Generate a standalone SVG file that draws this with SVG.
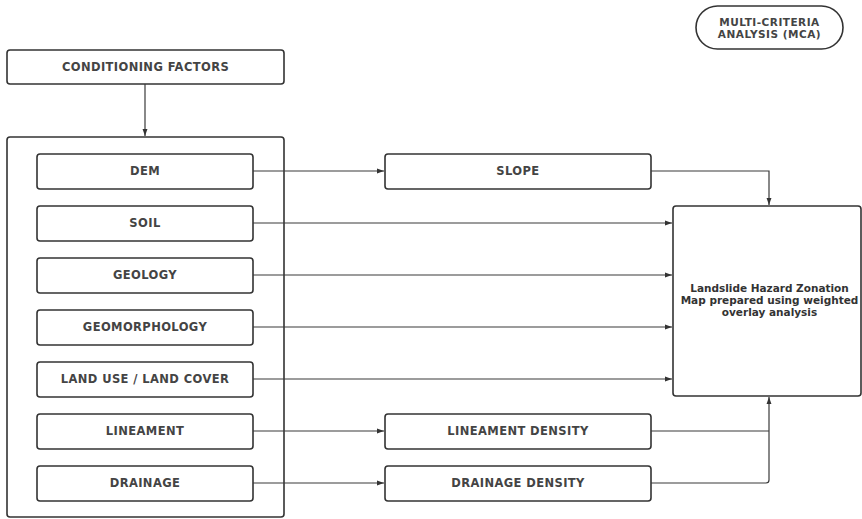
<svg xmlns="http://www.w3.org/2000/svg" width="862" height="519" viewBox="0 0 862 519">
  <style>
    .box { fill: #ffffff; stroke: #333333; stroke-width: 1.6; }
    .lbl { font-family: "DejaVu Sans", "Liberation Sans", sans-serif; font-weight: bold; font-size: 11.5px; letter-spacing: 0.4px; fill: #444444; text-anchor: middle; }
    .mca { font-size: 10.5px; letter-spacing: 0.5px; }
    .txt { font-family: "DejaVu Sans", "Liberation Sans", sans-serif; font-weight: bold; font-size: 10.5px; fill: #333333; text-anchor: middle; }
    .conn { fill: none; stroke: #3a3a3a; stroke-width: 1.2; }
  </style>
  <defs>
    <marker id="arrow" viewBox="0 0 10 10" refX="10" refY="5" markerWidth="7" markerHeight="7" orient="auto" markerUnits="userSpaceOnUse">
      <path d="M0,1.5 L10,5 L0,8.5 Z" fill="#333333"/>
    </marker>
  </defs>
  <rect width="862" height="519" fill="#ffffff"/>

  <g id="mca">
    <rect class="box" x="696" y="6" width="147" height="43" rx="21.5"/>
    <text class="lbl mca" x="769.5" y="25.5">MULTI-CRITERIA</text>
    <text class="lbl mca" x="769.5" y="38">ANALYSIS (MCA)</text>
  </g>

  <g id="conditioning-factors">
    <rect class="box" x="7" y="50" width="277" height="34" rx="3"/>
    <text class="lbl" x="145.5" y="71">CONDITIONING FACTORS</text>
  </g>

  <g id="factor-group">
    <rect class="box" x="7" y="137" width="277" height="380" rx="3"/>
  </g>

  <g id="dem">
    <rect class="box" x="37" y="154" width="216" height="35" rx="3"/>
    <text class="lbl" x="145" y="175">DEM</text>
  </g>
  <g id="soil">
    <rect class="box" x="37" y="206" width="216" height="35" rx="3"/>
    <text class="lbl" x="145" y="227">SOIL</text>
  </g>
  <g id="geology">
    <rect class="box" x="37" y="258" width="216" height="35" rx="3"/>
    <text class="lbl" x="145" y="279">GEOLOGY</text>
  </g>
  <g id="geomorphology">
    <rect class="box" x="37" y="310" width="216" height="35" rx="3"/>
    <text class="lbl" x="145" y="331">GEOMORPHOLOGY</text>
  </g>
  <g id="land-use">
    <rect class="box" x="37" y="362" width="216" height="35" rx="3"/>
    <text class="lbl" x="145" y="383">LAND USE / LAND COVER</text>
  </g>
  <g id="lineament">
    <rect class="box" x="37" y="414" width="216" height="35" rx="3"/>
    <text class="lbl" x="145" y="435">LINEAMENT</text>
  </g>
  <g id="drainage">
    <rect class="box" x="37" y="466" width="216" height="35" rx="3"/>
    <text class="lbl" x="145" y="487">DRAINAGE</text>
  </g>

  <g id="slope">
    <rect class="box" x="385" y="154" width="266" height="35" rx="3"/>
    <text class="lbl" x="518" y="175">SLOPE</text>
  </g>
  <g id="lineament-density">
    <rect class="box" x="385" y="414" width="266" height="35" rx="3"/>
    <text class="lbl" x="518" y="435">LINEAMENT DENSITY</text>
  </g>
  <g id="drainage-density">
    <rect class="box" x="385" y="466" width="266" height="35" rx="3"/>
    <text class="lbl" x="518" y="487">DRAINAGE DENSITY</text>
  </g>

  <g id="hazard-map">
    <rect class="box" x="673" y="206" width="188" height="190" rx="3"/>
    <text class="txt" x="769.5" y="292">Landslide Hazard Zonation</text>
    <text class="txt" x="769.5" y="304">Map prepared using weighted</text>
    <text class="txt" x="769.5" y="316">overlay analysis</text>
  </g>

  <g id="connectors">
    <path class="conn" d="M145,84 V136" marker-end="url(#arrow)"/>
    <path class="conn" d="M253,171 H384" marker-end="url(#arrow)"/>
    <path class="conn" d="M651,171 H769 V205" marker-end="url(#arrow)"/>
    <path class="conn" d="M253,223 H672" marker-end="url(#arrow)"/>
    <path class="conn" d="M253,275 H672" marker-end="url(#arrow)"/>
    <path class="conn" d="M253,327 H672" marker-end="url(#arrow)"/>
    <path class="conn" d="M253,379 H672" marker-end="url(#arrow)"/>
    <path class="conn" d="M253,431 H384" marker-end="url(#arrow)"/>
    <path class="conn" d="M253,483 H384" marker-end="url(#arrow)"/>
    <path class="conn" d="M651,431 H769"/>
    <path class="conn" d="M651,483 H766 Q769,483 769,480 V397" marker-end="url(#arrow)"/>
  </g>
</svg>
